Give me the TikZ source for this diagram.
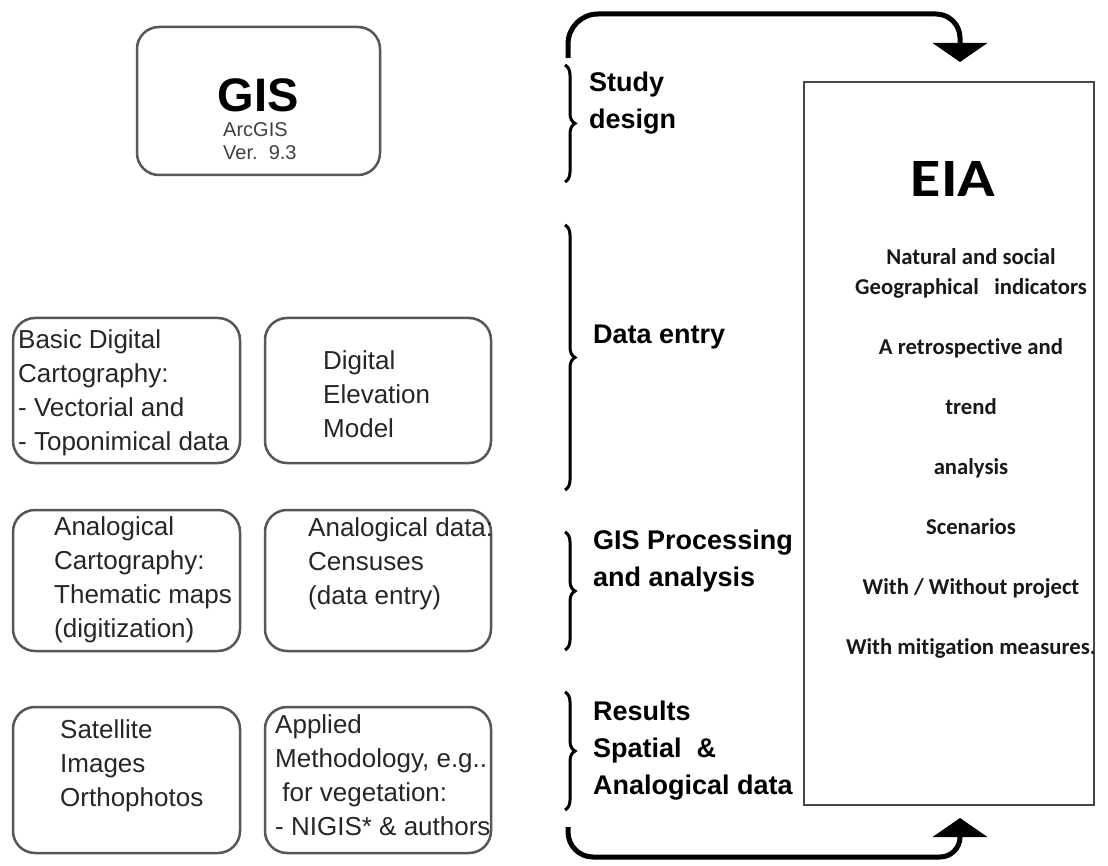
\documentclass[tikz,border=0pt]{standalone}
\usepackage{fontspec}
\setmainfont{Liberation Sans}
\newfontfamily\eiafont[Ligatures=NoCommon]{Carlito}
\usetikzlibrary{decorations.pathreplacing,arrows.meta}

\begin{document}
\begin{tikzpicture}[x=1pt,y=-1pt,
  box/.style={draw=black!66, line width=2.5pt, rounded corners=22pt, inner sep=0pt},
  boxtext/.style={anchor=west, align=left, inner sep=0pt, text=black!85,
    font=\fontsize{26}{34}\selectfont},
  stage/.style={anchor=west, align=left, inner sep=0pt,
    font=\bfseries\fontsize{27}{37}\selectfont},
  stagebrace/.style={decorate, decoration={brace, amplitude=10pt}, line width=3pt},
  loop/.style={line width=5pt, -{Triangle[width=54pt,length=19pt]}},
]
\useasboundingbox[fill=white] (0,0) rectangle (1108,866);

% GIS software box
\node[box, minimum width=243pt, minimum height=148pt] (gis) at (258.5,101) {};
\node[inner sep=0pt, font=\bfseries\fontsize{47}{47}\selectfont] (gisTitle) at (258,95) {GIS};
\node[anchor=west, align=left, inner sep=0pt, text=black!75,
  font=\fontsize{20}{23}\selectfont] (gisVer) at (223,141) {ArcGIS\\Ver.\ \ 9.3};

% input boxes, two columns by three rows
\node[box, minimum width=227pt, minimum height=145pt] (bdc) at (126.5,390.5) {};
\node[box, minimum width=226pt, minimum height=145pt] (dem) at (378,390.5) {};
\node[box, minimum width=227pt, minimum height=141pt] (acart) at (126.5,580.5) {};
\node[box, minimum width=226pt, minimum height=141pt] (adata) at (378,580.5) {};
\node[box, minimum width=227pt, minimum height=146pt] (sat) at (126.5,780) {};
\node[box, minimum width=226pt, minimum height=146pt] (meth) at (378,780) {};

\node[boxtext] (bdcText) at (18,393) {Basic Digital\\Cartography:\\- Vectorial and\\- Toponimical data};
\node[boxtext] (demText) at (323,394) {Digital\\Elevation\\Model};
\node[boxtext] (acartText) at (54,580) {Analogical\\Cartography:\\Thematic maps\\(digitization)};
\node[boxtext] (adataText) at (308,564) {Analogical data:\\Censuses\\(data entry)};
\node[boxtext] (satText) at (60,766) {Satellite\\Images\\Orthophotos};
\node[boxtext] (methText) at (275,775) {Applied\\Methodology, e.g..\\\ for vegetation:\\- NIGIS* \& authors};

% stage braces
\coordinate (s1a) at (565,65);  \coordinate (s1b) at (565,182);
\coordinate (s2a) at (565,225); \coordinate (s2b) at (565,490);
\coordinate (s3a) at (565,532); \coordinate (s3b) at (565,650);
\coordinate (s4a) at (565,692); \coordinate (s4b) at (565,810);
\draw[stagebrace] (s1a) -- (s1b);
\draw[stagebrace] (s2a) -- (s2b);
\draw[stagebrace] (s3a) -- (s3b);
\draw[stagebrace] (s4a) -- (s4b);

\node[stage] (study) at (589,103) {Study\\design};
\node[stage] (entry) at (593,337) {Data entry};
\node[stage] (proc) at (593,561) {GIS Processing\\and analysis};
\node[stage] (res) at (593,751) {Results\\Spatial\ \ \&\\Analogical data};

% EIA box
\node[draw=black!72, line width=2.5pt, minimum width=290pt, minimum height=723pt,
  inner sep=0pt] (eia) at (949,443.5) {};
\node[inner sep=0pt, xscale=1.15, font=\eiafont\bfseries\fontsize{54}{54}\selectfont] (eiaTitle) at (953,179) {EIA};
\node[inner sep=0pt, align=center, text=black!90,
  font=\eiafont\bfseries\fontsize{22.7}{30}\selectfont] (eiaBody) at (971,453)
  {Natural and social\\Geographical\ \ \ indicators\\[30pt]A retrospective and\\[30pt]trend\\[30pt]analysis\\[30pt]Scenarios\\[30pt]With / Without project\\[30pt]With mitigation measures.};

% feedback loops into the EIA
\coordinate (topStart) at (568,58);
\coordinate (topEnd) at (960,62);
\coordinate (botStart) at (568,827);
\coordinate (botEnd) at (960,818);
\draw[loop] (topStart) -- (568,44) arc[start angle=180, end angle=270, radius=30]
  -- (936,14) arc[start angle=-90, end angle=0, radius=24] -- (topEnd);
\draw[loop] (botStart) -- (568,832) arc[start angle=180, end angle=90, radius=25]
  -- (940,857) arc[start angle=90, end angle=0, radius=20] -- (botEnd);
\end{tikzpicture}
\end{document}
